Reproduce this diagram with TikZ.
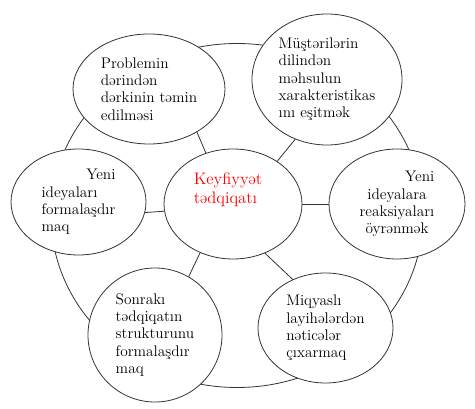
\documentclass[tikz,border=0pt]{standalone}
\usepackage{fontspec}
\usetikzlibrary{shapes.geometric}

\tikzset{
  bubble/.style={ellipse, draw=black!80, line width=0.6pt, fill=white,
                 inner sep=0pt, align=left,
                 font=\fontsize{11.5}{13}\selectfont},
  ringline/.style={ellipse, draw=black!80, line width=0.6pt, inner sep=0pt}
}

\begin{document}
\begin{tikzpicture}[x=0.75pt,y=-0.75pt]
\useasboundingbox (0,0) rectangle (475,409);
\node (ring) [ringline, minimum width=279pt, minimum height=258pt] at (237,215.5) {};

\node (core) [bubble, minimum width=103.5pt, minimum height=82.5pt] at (233,204) {};
\node (coretext) [red, align=left, font=\fontsize{12.5}{14.3}\selectfont] at (228,190) {Keyfiyyət\\tədqiqatı};

\node (problem) [bubble, minimum width=114pt, minimum height=82.5pt] at (149,89)
  {Problemin\\dərindən\\dərkinin təmin\\edilməsi};
\node (customer) [bubble, minimum width=112.5pt, minimum height=98.25pt] at (327,79.5)
  {Müştərilərin\\dilindən\\məhsulun\\xarakteristikas\\ını eşitmək};
\node (ideas) [bubble, minimum width=101.25pt, minimum height=79.5pt] at (78.5,202)
  {\hphantom{formalaşdır}\llap{Yeni}\\ideyaları\\formalaşdır\\maq};
\node (react) [bubble, align=center, minimum width=102pt, minimum height=82.5pt] at (397,204)
  {\hphantom{reaksiyaları}\llap{Yeni}\\ideyalara\\reaksiyaları\\öyrənmək};
\node (structure) [bubble, minimum size=100.5pt] at (155,335)
  {Sonrakı\\tədqiqatın\\strukturunu\\formalaşdır\\maq};
\node (result) [bubble, minimum width=101.25pt, minimum height=82.5pt] at (325.5,328)
  {Miqyaslı\\layihələrdən\\nəticələr\\çıxarmaq};

\path[draw=black!80, line width=0.6pt]
  (core.118) edge (problem.-42)
  (core.44) edge (customer.242)
  (core.0) edge (react.180)
  (core.186) edge (ideas.-9)
  (core.236) edge (structure.60)
  (core.-57) edge (result.124)
  ;
\end{tikzpicture}
\end{document}
